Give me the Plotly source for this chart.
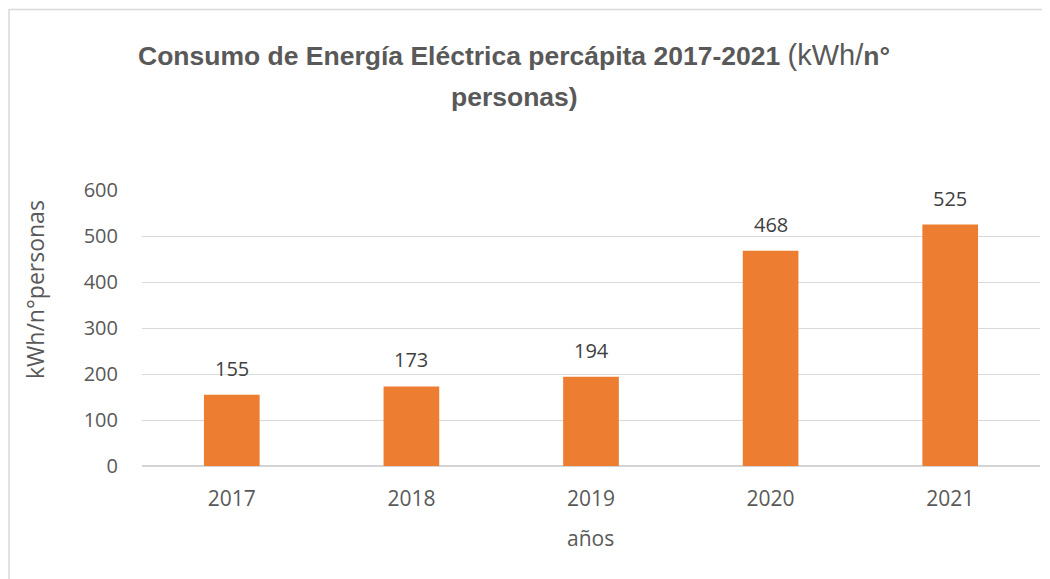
import plotly.graph_objects as go

years = ["2017", "2018", "2019", "2020", "2021"]
values = [155, 173, 194, 468, 525]
y_ticks = [0, 100, 200, 300, 400, 500, 600]

title_line1 = ("<b>Consumo de Energía Eléctrica percápita 2017-2021 </b>"
               "<span style='font-size:29px;font-weight:normal'>(kWh/</span><b>n°</b>")
title_line2 = "<b>personas)</b>"
y_title = "kWh/n°personas"
x_title = "años"

# the page body adds an 8px offset; positions below are in window pixels
OFF = 8
W, H = 1050, 579
PL, PR, PT, PB = 142, 1040, 190, 466   # plot area in window pixels
L, T = PL - OFF, PT - OFF
R = W - (PR - OFF)
B = H - (PB - OFF)
pw, ph = W - L - R, H - T - B

def px(x):
    return (x - OFF - L) / pw

def py(y):
    return (H - B - (y - OFF)) / ph

fig = go.Figure()
fig.add_trace(go.Bar(x=years, y=values, marker=dict(color="#ED7D31", line=dict(width=0)),
                     hoverinfo="x+y"))

annotations = []
for i, v in enumerate(values):
    annotations.append(dict(x=i, y=v, xref="x", yref="y", text=str(v), showarrow=False,
                            yanchor="bottom", yshift=11,
                            font=dict(family="Open Sans", size=20, color="#404040")))

title_font = dict(family="Liberation Sans, Arial, sans-serif", size=26.5, color="#595959")
annotations += [
    dict(x=px(514), y=py(55), xref="paper", yref="paper", text=title_line1, showarrow=False,
         xanchor="center", yanchor="middle", font=title_font),
    dict(x=px(514), y=py(97), xref="paper", yref="paper", text=title_line2, showarrow=False,
         xanchor="center", yanchor="middle", font=title_font),
    dict(x=px(35), y=py(290), xref="paper", yref="paper", text=y_title, showarrow=False,
         textangle=-90, xanchor="center", yanchor="middle",
         font=dict(family="Open Sans", size=23, color="#595959")),
    dict(x=px(590), y=py(538), xref="paper", yref="paper", text=x_title, showarrow=False,
         xanchor="center", yanchor="middle",
         font=dict(family="Open Sans", size=21, color="#595959")),
]

fig.update_layout(
    width=W, height=H,
    margin=dict(l=L, r=R, t=T, b=B),
    paper_bgcolor="white", plot_bgcolor="white",
    showlegend=False,
    bargap=0.69,
    annotations=annotations,
    shapes=[dict(type="rect", xref="paper", yref="paper",
                 x0=px(9), y0=py(620), x1=px(1080), y1=py(9.5),
                 line=dict(color="#D9D9D9", width=1.5), fillcolor="rgba(0,0,0,0)", layer="below")],
)
fig.update_xaxes(type="category", range=[-0.5, len(years) - 0.5], autorange=False,
                 showgrid=False, showline=False, zeroline=False,
                 ticks="outside", ticklen=14, tickcolor="rgba(0,0,0,0)",
                 tickfont=dict(family="Open Sans", size=21, color="#595959"))
fig.update_yaxes(range=[0, 600], tickvals=y_ticks, showgrid=True, gridcolor="#D9D9D9", gridwidth=1.3,
                 zeroline=True, zerolinecolor="#D4D4D4", zerolinewidth=2, showline=False,
                 ticks="outside", ticklen=19, tickcolor="rgba(0,0,0,0)",
                 tickfont=dict(family="Open Sans", size=20, color="#595959"))

fig.write_html("out.html")
